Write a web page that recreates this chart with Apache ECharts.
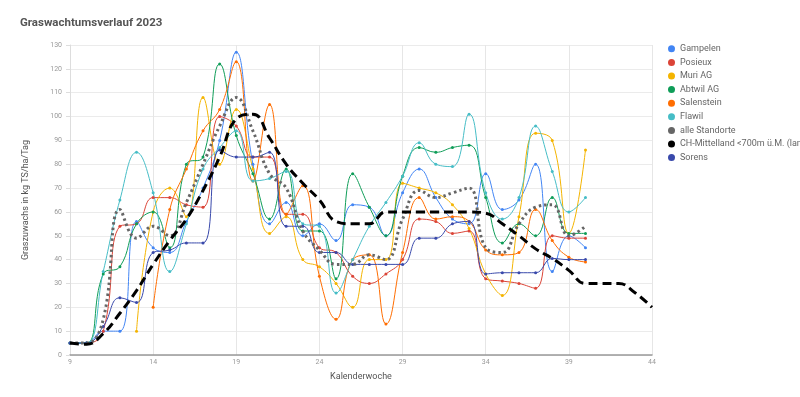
<!DOCTYPE html>
<html>
<head>
<meta charset="utf-8">
<title>Graswachtumsverlauf 2023</title>
<script src="https://cdn.jsdelivr.net/npm/echarts@6/dist/echarts.min.js"></script>
<style>
  html, body { margin: 0; padding: 0; background: #fff; }
  #chart { width: 800px; height: 397px; }
</style>
</head>
<body>
<div id="chart"></div>
<script>
// Kalenderwochen 9..44
var weeks = [9,10,11,12,13,14,15,16,17,18,19,20,21,22,23,24,25,26,27,28,29,30,31,32,33,34,35,36,37,38,39,40,41,42,43,44];

// Graszuwachs kg TS/ha/Tag je Standort (null = keine Messung)
var gampelen   = [5,5,10,10,56,45,43,56,70,90,127,80,55,64,50,55,48,63,62,50,68,78,66,57,55,76,61,65,80,35,50,45,null,null,null,null];
var posieux    = [5,5,10,54,55,66,66,63,62,100,96,83,83,59,59,45,43,33,30,34,40,57,56,51,52,32,31,30,28,50,49,49,null,null,null,null];
var muri       = [null,null,null,null,10,60,70,58,108,80,103,78,51,58,40,37,30,20,40,40,72,70,68,63,53,34,25,58,93,90,51,86,null,null,null,null];
var abtwil     = [5,5,34,37,55,60,45,80,83,122,92,76,57,78,52,52,32,76,62,50,75,87,85,87,88,66,47,55,50,66,51,51,null,null,null,null];
var salenstein = [null,null,null,null,null,20,61,78,94,103,123,73,105,59,71,33,15,40,42,13,43,66,57,58,56,44,42,43,61,48,41,39,null,null,null,null];
var flawil     = [5,5,35,65,85,68,35,55,78,87,94,73,74,77,55,54,26,40,54,64,75,89,80,79,101,68,57,66,96,77,60,66,null,null,null,null];
var alle       = [5,5,15,61,49,54,50,64,80,96,108,94,76,70,52,44,38,38,42,40,57,69,66,68,70,45,43,55,62,63,50,54,null,null,null,null];
var mittelland = [5,4.5,9,17.5,27,38,48,57,69,83,99,101,91,80,72,65,56,55,55,60,60,60,60,60,60,59.5,55,50,44.5,40.5,35.5,30,30,30,26,20];
var sorens     = [5,5,12,24,22,43,44,47,47,86,83,83,85,54,54,43,43,38,38,38,38,49,49,55,56,34,34.5,34.5,34.5,40.5,40,40,null,null,null,null];

var names = ['Gampelen','Posieux','Muri AG','Abtwil AG','Salenstein','Flawil','alle Standorte','CH-Mittelland <700m ü.M. (langjähriges Mittel)','Sorens'];
var colors = ['#4285f4','#db4437','#f4b400','#0f9d58','#ff6d01','#46bdc6','#666666','#000000','#3949ab'];
var values = [gampelen, posieux, muri, abtwil, salenstein, flawil, alle, mittelland, sorens];

function pairs(arr){
	return weeks.map(function(w, i){ return [w, arr[i]]; });
}

var series = values.map(function(arr, i){
	var s = {
		name: names[i],
		type: 'line',
		smooth: 0.45,
		data: pairs(arr),
		symbol: 'circle',
		symbolSize: 3,
		showSymbol: true,
		lineStyle: { width: 1, color: colors[i] },
		itemStyle: { color: colors[i] },
		z: 2
	};
	if (i === 6) { // alle Standorte: gepunktet
		s.lineStyle = { width: 3, color: '#666', type: [2.5, 3] };
		s.symbolSize = 0;
		s.z = 4;
	}
	if (i === 7) { // langjähriges Mittel: gestrichelt
		s.lineStyle = { width: 3, color: '#000', type: [9, 5] };
		s.symbolSize = 0;
		s.z = 5;
	}
	return s;
});

var chart = echarts.init(document.getElementById('chart'));
var option = {
	animation: false,
	color: colors,
	title: {
		text: 'Graswachtumsverlauf 2023',
		left: 15,
		top: 12,
		textStyle: { fontFamily: 'Roboto', fontSize: 11.5, fontWeight: 'bold', color: '#555' }
	},
	legend: {
		orient: 'vertical',
		left: 663,
		right: -300,
		top: 37,
		icon: 'circle',
		itemWidth: 7,
		itemHeight: 7,
		itemGap: 0,
		textStyle: { fontFamily: 'Roboto', fontSize: 9, color: '#666', lineHeight: 13.6, overflow: 'none' },
		data: names
	},
	grid: { left: 70, right: 148, top: 45, bottom: 42 },
	xAxis: {
		type: 'value',
		min: 9,
		max: 44,
		interval: 5,
		name: 'Kalenderwoche',
		nameLocation: 'middle',
		nameGap: 17,
		nameTextStyle: { fontFamily: 'Roboto', fontSize: 9, color: '#555' },
		axisLine: { show: true, lineStyle: { color: '#999', width: 1.5 } },
		axisTick: { show: false },
		axisLabel: { fontFamily: 'Roboto', fontSize: 7, color: '#999', margin: 4 },
		splitLine: { show: true, lineStyle: { color: '#e6e6e6' } }
	},
	yAxis: {
		type: 'value',
		min: 0,
		max: 130,
		interval: 10,
		name: 'Graszuwachs in kg TS/ha/Tag',
		nameLocation: 'middle',
		nameGap: 40,
		nameTextStyle: { fontFamily: 'Roboto', fontSize: 9, color: '#555' },
		axisLine: { show: true, lineStyle: { color: '#ddd' } },
		axisTick: { show: true, length: 4, lineStyle: { color: '#ddd' } },
		axisLabel: { fontFamily: 'Roboto', fontSize: 7, color: '#999', margin: 8 },
		splitLine: { show: true, lineStyle: { color: '#ebebeb' } }
	},
	series: series
};
chart.setOption(option);
</script>
</body>
</html>
